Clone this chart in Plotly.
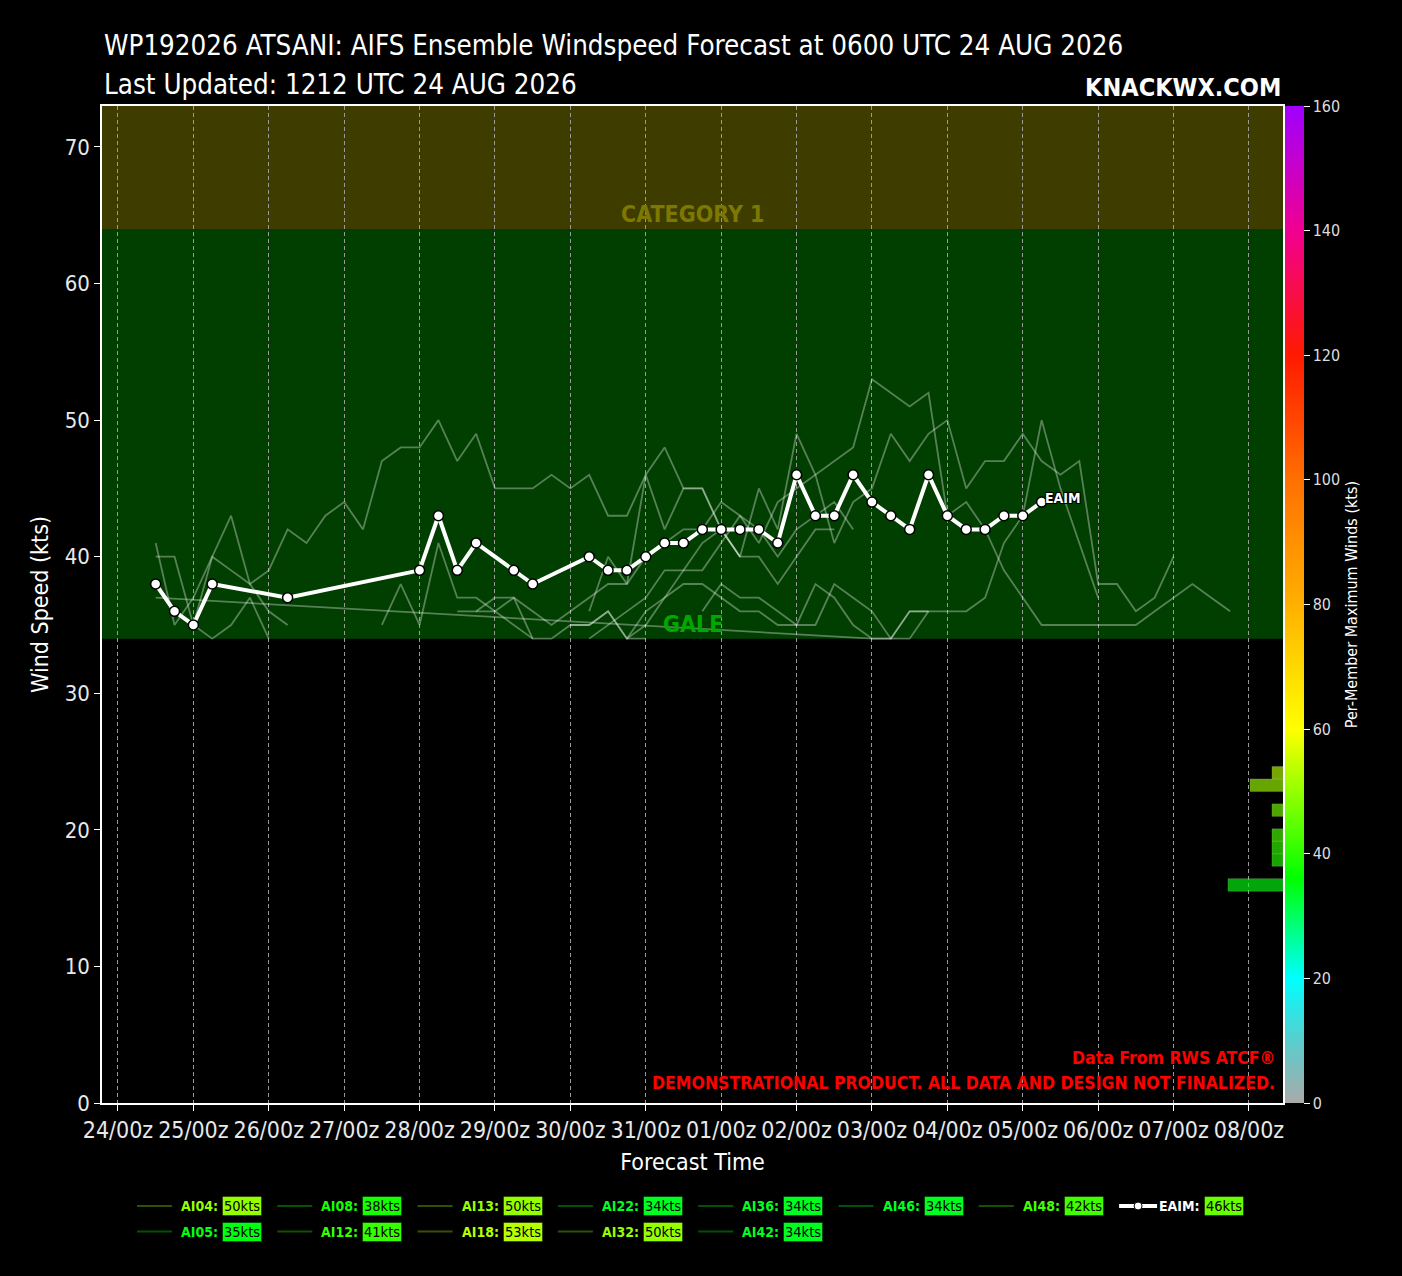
import numpy as np
import pandas as pd
import plotly.graph_objects as go
from plotly.colors import sample_colorscale

# valid times are hours after 0000 UTC 24 AUG 2026
T0 = pd.Timestamp("2026-08-24 00:00")

# EAIM (ensemble mean) track
eaim_hrs = [12, 18, 24, 30, 54, 96, 102, 108, 114, 126, 132] + list(range(150, 295, 6))
eaim_kts = [38, 36, 35, 38, 37, 39, 43, 39, 41, 39, 38,
            40, 39, 39, 40, 41, 41, 42, 42, 42, 42, 41,
            46, 43, 43, 46, 44, 43, 42, 46, 43, 42, 42, 43, 43, 44]

# ensemble members
ai04_hrs = list(range(24, 199, 6))
ai04_kts = [35, 40, 43, 38, 39, 42, 41, 43, 44, 42, 47, 48, 48, 50, 47,
            49, 45, 45, 45, 46, 45, 46, 43, 43, 46, 48, 45, 45, 42, 40]
ai05_hrs = list(range(12, 49, 6))
ai05_kts = [40, 40, 35, 34, 35, 37, 34]
ai08_hrs = list(range(12, 55, 6))
ai08_kts = [41, 35, 37, 40, 39, 38, 36, 35]
ai12_hrs = list(range(84, 133, 6))
ai12_kts = [35, 38, 35, 41, 37, 37, 36, 35, 34]
ai13_hrs = list(range(150, 337, 6))
ai13_kts = [34, 35, 36, 37, 39, 39, 41, 42, 40, 45, 42, 49, 46, 41, 44, 45,
            49, 47, 49, 50, 45, 47, 47, 49, 47, 46, 47, 38, 38, 36, 37, 40]
ai18_hrs = list(range(114, 355, 6))
ai18_kts = [36, 36, 37, 36, 35, 36, 37, 38, 38, 40, 41, 42, 42, 44, 43, 41,
            44, 45, 46, 47, 48, 53, 52, 51, 52, 43, 44, 42, 39, 37, 35, 35,
            35, 35, 35, 35, 36, 37, 38, 37, 36]
ai22_hrs = list(range(108, 169, 6))
ai22_kts = [36, 36, 37, 37, 34, 34, 35, 35, 36, 34, 34]
ai32_hrs = [12] + list(range(240, 313, 6))
ai32_kts = [37, 34, 34, 36, 36, 36, 36, 37, 41, 43, 50, 45, 41, 37]
ai36_hrs = list(range(186, 259, 6))
ai36_kts = [36, 38, 37, 37, 36, 35, 35, 38, 37, 36, 34, 34, 36]
ai42_hrs = list(range(144, 235, 6))
ai42_kts = [35, 35, 36, 34, 36, 37, 39, 39, 41, 43, 42, 40, 42, 43, 44, 42]
ai46_hrs = list(range(162, 259, 6))
ai46_kts = [34, 35, 37, 38, 38, 37, 36, 36, 35, 35, 38, 37, 35, 34, 34, 36, 36]
ai48_hrs = list(range(150, 229, 6))
ai48_kts = [36, 40, 38, 46, 42, 45, 45, 42, 40, 40, 38, 40, 42, 42]

# per-member maximum winds, as listed in the legend
member_names = ["AI04", "AI05", "AI08", "AI12", "AI13", "AI18", "AI22",
                "AI32", "AI36", "AI42", "AI46", "AI48", "EAIM"]
member_max = [50, 35, 38, 41, 50, 53, 34, 50, 34, 34, 34, 42, 46]

day_ticks = pd.date_range("2026-08-24", "2026-09-08", freq="D")

members = {
    "AI04": (ai04_hrs, ai04_kts), "AI05": (ai05_hrs, ai05_kts),
    "AI08": (ai08_hrs, ai08_kts), "AI12": (ai12_hrs, ai12_kts),
    "AI13": (ai13_hrs, ai13_kts), "AI18": (ai18_hrs, ai18_kts),
    "AI22": (ai22_hrs, ai22_kts), "AI32": (ai32_hrs, ai32_kts),
    "AI36": (ai36_hrs, ai36_kts), "AI42": (ai42_hrs, ai42_kts),
    "AI46": (ai46_hrs, ai46_kts), "AI48": (ai48_hrs, ai48_kts),
}

GALE, CAT1 = 34, 64

FONT = "DejaVu Sans Condensed, Liberation Sans Narrow, Liberation Sans, sans-serif"

WSCALE = [
    [0.0, "rgb(170,170,170)"], [0.0625, "rgb(90,205,205)"], [0.125, "rgb(0,255,255)"],
    [0.225, "rgb(0,255,0)"], [0.375, "rgb(255,255,0)"], [0.5, "rgb(255,176,0)"],
    [0.625, "rgb(255,112,0)"], [0.75, "rgb(255,26,0)"], [0.875, "rgb(240,0,144)"],
    [1.0, "rgb(160,0,255)"],
]


def wcol(v):
    return sample_colorscale(WSCALE, [v / 160])[0]


def tm(hrs):
    return T0 + pd.to_timedelta(hrs, unit="h")


def f(size, color="white", bold=False):
    return dict(family=FONT, size=size, color=color,
                weight="bold" if bold else "normal")


# pixel -> paper helpers (plot area 102..1283 x 106..1103)
def fx(px):
    return (px - 102) / 1181


def fy(py):
    return (1103 - py) / 997


fig = go.Figure()

for name, (h, k) in members.items():
    fig.add_trace(go.Scatter(x=tm(h), y=k, mode="lines", name=name,
                             line=dict(color="rgba(255,255,255,0.34)", width=1.8),
                             showlegend=False, hoverinfo="skip"))

fig.add_trace(go.Scatter(x=tm(eaim_hrs), y=eaim_kts, mode="lines+markers", name="EAIM",
                         line=dict(color="white", width=4),
                         marker=dict(size=10, color="white", line=dict(color="black", width=1.5)),
                         showlegend=False))

# histogram of member maxima, drawn against the colorbar scale
counts, edges = np.histogram(member_max, bins=np.arange(0, 162, 2))
centers = (edges[:-1] + edges[1:]) / 2
keep = counts > 0
fig.add_trace(go.Bar(
    y=centers[keep], x=counts[keep], orientation="h", width=2,
    xaxis="x2", yaxis="y2", showlegend=False,
    marker=dict(color=centers[keep], colorscale=WSCALE, cmin=0, cmax=160, opacity=0.65,
                line=dict(color="rgba(200,255,150,0.35)", width=1),
                colorbar=dict(x=1.0017, xanchor="left", xpad=0, y=0.5, yanchor="middle",
                              len=1, ypad=0, thickness=19, outlinewidth=0,
                              ticks="outside", ticklen=6, tickcolor="white",
                              tickvals=list(range(0, 161, 20)),
                              tickfont=f(16, "#dddddd"),
                              title=dict(text="Per-Member Maximum Winds (kts)", side="right",
                                         font=f(16)))),
))

shapes = [
    dict(type="rect", xref="paper", yref="y", x0=0, x1=1, y0=GALE, y1=CAT1,
         fillcolor="#003f00", line=dict(width=0), layer="below"),
    dict(type="rect", xref="paper", yref="y", x0=0, x1=1, y0=CAT1, y1=80,
         fillcolor="#3f3c00", line=dict(width=0), layer="below"),
]

annotations = [
    dict(text="WP192026 ATSANI: AIFS Ensemble Windspeed Forecast at 0600 UTC 24 AUG 2026",
         x=0, y=fy(45), xanchor="left", yanchor="middle", font=f(27.5)),
    dict(text="Last Updated: 1212 UTC 24 AUG 2026",
         x=0, y=fy(84), xanchor="left", yanchor="middle", font=f(27.5)),
    dict(text="KNACKWX.COM", x=1, y=fy(87), xanchor="right", yanchor="middle",
         font=f(25, bold=True)),
    dict(text="CATEGORY 1", x=0.5, y=CAT1, yref="y", xanchor="center", yanchor="bottom",
         font=f(23, "#7d7800", True)),
    dict(text="GALE", x=0.5, y=GALE, yref="y", xanchor="center", yanchor="bottom",
         font=f(23, "#00a800", True)),
    dict(text="Data From RWS ATCF®", x=fx(1277), y=fy(1058), xanchor="right",
         yanchor="middle", font=f(17.5, "#ff0000", True)),
    dict(text="DEMONSTRATIONAL PRODUCT. ALL DATA AND DESIGN NOT FINALIZED.",
         x=fx(1277), y=fy(1083), xanchor="right", yanchor="middle",
         font=f(17.5, "#ff0000", True)),
    dict(text="EAIM", x=tm([eaim_hrs[-1]])[0], y=eaim_kts[-1], xref="x", yref="y",
         xanchor="left", yanchor="bottom", xshift=1, yshift=-6,
         font=dict(f(14, bold=True),
                   shadow="1px 1px 0 black, -1px -1px 0 black, 1px -1px 0 black, -1px 1px 0 black")),
]

# legend: 8 columns, 2 rows, filled column-wise (first columns get two entries)
NCOL = 8
n_two = len(member_names) - NCOL
for i, (name, mx) in enumerate(zip(member_names, member_max)):
    if i < 2 * n_two:
        col, row = divmod(i, 2)
    else:
        col, row = n_two + (i - 2 * n_two), 0
    x0 = 137 + 140.3 * col
    yy = fy(1206 + 25.5 * row)
    c = wcol(mx)
    if name == "EAIM":
        shapes.append(dict(type="line", xref="paper", yref="paper", x0=fx(x0), x1=fx(x0 + 38),
                           y0=yy, y1=yy, line=dict(color="white", width=4)))
        shapes.append(dict(type="circle", xref="paper", yref="paper",
                           x0=fx(x0 + 15), x1=fx(x0 + 23), y0=yy - 4 / 997, y1=yy + 4 / 997,
                           fillcolor="white", line=dict(color="black", width=1)))
        lab_col = "white"
    else:
        shapes.append(dict(type="line", xref="paper", yref="paper", x0=fx(x0), x1=fx(x0 + 35),
                           y0=yy, y1=yy, line=dict(color=c, width=2), opacity=0.32))
        lab_col = c
    annotations.append(dict(text=f"{name}:", x=fx(x0 + 83), y=yy, xanchor="right",
                            yanchor="middle", font=f(14, lab_col, True)))
    annotations.append(dict(text=f"{mx}kts", x=fx(x0 + 85), y=yy, xanchor="left",
                            yanchor="middle", bgcolor=c, borderpad=1,
                            bordercolor="rgba(0,0,0,0.4)", borderwidth=1,
                            font=f(14.5, "black")))

for a in annotations:
    a.setdefault("xref", "paper")
    a.setdefault("yref", "paper")
    a.setdefault("showarrow", False)

fig.update_layout(
    width=1402, height=1276,
    margin=dict(l=102, r=119, t=106, b=173),
    paper_bgcolor="black", plot_bgcolor="black",
    font=f(14),
    shapes=shapes, annotations=annotations,
    xaxis=dict(type="date", range=["2026-08-23 18:55", "2026-09-08 10:50"],
               tickvals=day_ticks, tickformat="%d/%Hz", tickangle=0,
               tickfont=f(23, "#e8e8e8"),
               ticks="outside", ticklen=6, tickcolor="white",
               showgrid=True, gridcolor="#9a9a9a", gridwidth=1, griddash="4px,3px",
               showline=True, linecolor="white", linewidth=1.5, mirror=True, zeroline=False,
               title=dict(text="Forecast Time", font=f(23), standoff=12)),
    yaxis=dict(range=[0, 73], tickvals=list(range(0, 71, 10)),
               tickfont=f(22, "#e8e8e8"),
               ticks="outside", ticklen=6, tickcolor="white",
               showgrid=False, zeroline=False,
               showline=True, linecolor="white", linewidth=1.5, mirror=True,
               title=dict(text="Wind Speed (kts)", font=f(23), standoff=10)),
    xaxis2=dict(overlaying="x", anchor="y2", range=[107.4, 0], visible=False),
    yaxis2=dict(overlaying="y", anchor="x2", range=[0, 160], visible=False),
)

fig.write_html("out.html", config={"displayModeBar": False},
               post_script="document.body.style.margin='0';"
                           "document.body.style.background='black';")
